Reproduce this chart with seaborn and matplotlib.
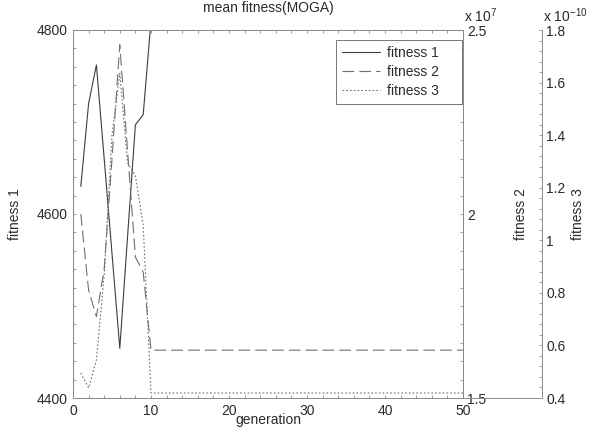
import numpy as np
import pandas as pd
import matplotlib
matplotlib.use("Agg")
import matplotlib.pyplot as plt
from matplotlib.ticker import FixedLocator, FuncFormatter
import seaborn as sns

# ---------------- data ----------------
generation = list(range(1, 51))
fitness1 = [4630, 4720, 4762, 4660, 4557, 4454, 4576, 4697, 4708, 4810,
            4810, 4810, 4810, 4810, 4810, 4810, 4810, 4810, 4810, 4810,
            4810, 4810, 4810, 4810, 4810, 4810, 4810, 4810, 4810, 4810,
            4810, 4810, 4810, 4810, 4810, 4810, 4810, 4810, 4810, 4810,
            4810, 4810, 4810, 4810, 4810, 4810, 4810, 4810, 4810, 4810]
fitness2 = [2.000e7, 1.793e7, 1.721e7, 1.850e7, 2.150e7, 2.460e7, 2.170e7, 1.883e7, 1.842e7, 1.630e7,
            1.630e7, 1.630e7, 1.630e7, 1.630e7, 1.630e7, 1.630e7, 1.630e7, 1.630e7, 1.630e7, 1.630e7,
            1.630e7, 1.630e7, 1.630e7, 1.630e7, 1.630e7, 1.630e7, 1.630e7, 1.630e7, 1.630e7, 1.630e7,
            1.630e7, 1.630e7, 1.630e7, 1.630e7, 1.630e7, 1.630e7, 1.630e7, 1.630e7, 1.630e7, 1.630e7,
            1.630e7, 1.630e7, 1.630e7, 1.630e7, 1.630e7, 1.630e7, 1.630e7, 1.630e7, 1.630e7, 1.630e7]
fitness3 = [0.495e-10, 0.438e-10, 0.545e-10, 0.868e-10, 1.400e-10, 1.636e-10, 1.294e-10, 1.245e-10, 1.058e-10, 0.419e-10,
            0.419e-10, 0.419e-10, 0.419e-10, 0.419e-10, 0.419e-10, 0.419e-10, 0.419e-10, 0.419e-10, 0.419e-10, 0.419e-10,
            0.419e-10, 0.419e-10, 0.419e-10, 0.419e-10, 0.419e-10, 0.419e-10, 0.419e-10, 0.419e-10, 0.419e-10, 0.419e-10,
            0.419e-10, 0.419e-10, 0.419e-10, 0.419e-10, 0.419e-10, 0.419e-10, 0.419e-10, 0.419e-10, 0.419e-10, 0.419e-10,
            0.419e-10, 0.419e-10, 0.419e-10, 0.419e-10, 0.419e-10, 0.419e-10, 0.419e-10, 0.419e-10, 0.419e-10, 0.419e-10]
series_labels = ["fitness 1", "fitness 2", "fitness 3"]
title = "mean fitness(MOGA)"
xlabel = "generation"

df = pd.DataFrame({"generation": generation, "fitness 1": fitness1,
                   "fitness 2": fitness2, "fitness 3": fitness3})

# ---------------- style ----------------
sns.set_style("white")
plt.rcParams["font.family"] = ["Liberation Sans", "DejaVu Sans"]
plt.rcParams["mathtext.fontset"] = "custom"
plt.rcParams["mathtext.rm"] = "Liberation Sans"
plt.rcParams["mathtext.it"] = "Liberation Sans"
plt.rcParams["mathtext.bf"] = "Liberation Sans"
plt.rcParams["lines.scale_dashes"] = False

TXT = "#2a2a2a"
SPINE = "#8a8a8a"
FS = 10
W, H = 594, 440

fig = plt.figure(figsize=(W / 100, H / 100), dpi=100)
L, R, T, B = 73, 463, 30, 398
R3 = 542
ax = fig.add_axes([L / W, (H - B) / H, (R - L) / W, (B - T) / H])
ax2 = ax.twinx()
ax3 = fig.add_axes([L / W, (H - B) / H, (R3 - L) / W, (B - T) / H])
ax3.patch.set_visible(False)

# ---------------- lines ----------------
sns.lineplot(data=df, x="generation", y="fitness 1", ax=ax, color="#3c3c3c",
             lw=0.8, legend=False)
sns.lineplot(data=df, x="generation", y="fitness 2", ax=ax2, color="#707070",
             lw=0.8, legend=False)
sns.lineplot(data=df, x="generation", y="fitness 3", ax=ax3, color="#707070",
             lw=0.8, legend=False)
l1 = ax.get_lines()[0]
l2 = ax2.get_lines()[0]
l3 = ax3.get_lines()[0]
l2.set_dashes((8.5, 3.6))
l3.set_dashes((1.2, 1.5))

# ---------------- axes limits & ticks ----------------
xmax = 50
ax.set_xlim(0, xmax)
ax.set_ylim(4400, 4800)
ax2.set_ylim(1.5e7, 2.5e7)
ax3.set_xlim(0, xmax * (R3 - L) / (R - L))
ax3.set_ylim(0.4e-10, 1.8e-10)

tick_kw = dict(direction="in", length=2.4, width=0.6, colors=SPINE,
               labelcolor=TXT, labelsize=FS)

ax.xaxis.set_major_locator(FixedLocator(np.arange(0, 51, 2)))
ax.xaxis.set_major_formatter(FuncFormatter(lambda v, p: f"{v:g}" if round(v) % 10 == 0 else ""))
ax.yaxis.set_major_locator(FixedLocator(np.arange(4400, 4801, 20)))
ax.yaxis.set_major_formatter(FuncFormatter(lambda v, p: f"{v:g}" if round(v) % 200 == 0 else ""))
ax.tick_params(axis="both", which="major", top=True, bottom=True, left=True, right=False,
               pad=4, **tick_kw)

ax2.yaxis.set_major_locator(FixedLocator(np.arange(150, 251, 5) * 1e5))
ax2.yaxis.set_major_formatter(FuncFormatter(
    lambda v, p: f"{v / 1e7:g}" if round(v / 1e5) % 50 == 0 else ""))
ax2.tick_params(axis="y", which="major", right=True, left=False, pad=3, **tick_kw)

ax3.yaxis.tick_right()
ax3.yaxis.set_major_locator(FixedLocator(np.arange(40, 181, 4) * 1e-12))
ax3.yaxis.set_major_formatter(FuncFormatter(
    lambda v, p: f"{round(v * 1e10, 2):g}" if round(v * 1e12) % 20 == 0 else ""))
ax3.tick_params(axis="y", which="major", right=True, left=False, pad=3, **tick_kw)
ax3.tick_params(axis="x", which="both", bottom=False, top=False, labelbottom=False)
ax3.set_xlabel("")

for a in (ax, ax2):
    for s in a.spines.values():
        s.set_color(SPINE)
        s.set_linewidth(0.7)
for name, s in ax3.spines.items():
    s.set_color(SPINE)
    s.set_linewidth(0.7)
    s.set_visible(name in ("right", "bottom"))

# ---------------- labels ----------------
ax.set_xlabel(xlabel, fontsize=FS, color=TXT)
ax.xaxis.set_label_coords(0.5, (B - 420) / (B - T))
ax.xaxis.label.set_va("center")
ax.set_ylabel(series_labels[0], fontsize=FS, color=TXT)
ax.yaxis.set_label_coords((15 - L) / (R - L), 0.5)
ax.yaxis.label.set_va("center")
ax2.set_ylabel(series_labels[1], fontsize=FS, color=TXT)
ax2.yaxis.set_label_coords((521 - L) / (R - L), 0.5)
ax2.yaxis.label.set_va("center")
ax3.set_ylabel(series_labels[2], fontsize=FS, color=TXT)
ax3.yaxis.set_label_position("right")
ax3.yaxis.set_label_coords((578 - L) / (R3 - L), 0.5)
ax3.yaxis.label.set_va("center")

ax.set_title(title, fontsize=FS, color=TXT, y=(B - 8) / (B - T), va="center", pad=0)

fig.text(464 / W, (H - 22) / H, r"x 10$^{7}$", fontsize=FS, color=TXT,
         ha="left", va="baseline")
fig.text(543 / W, (H - 22) / H, r"x 10$^{-10}$", fontsize=FS, color=TXT,
         ha="left", va="baseline")

leg_x0, leg_x1, leg_top = 336, 462, 40
leg = ax3.legend([l1, l2, l3], series_labels, loc="upper left", mode="expand",
                 bbox_to_anchor=(leg_x0 / W, (H - leg_top) / H - 0.3, (leg_x1 - leg_x0) / W, 0.3),
                 bbox_transform=fig.transFigure,
                 borderaxespad=0, fontsize=FS, frameon=True, fancybox=False,
                 handlelength=2.75, handletextpad=0.45, borderpad=0.45,
                 labelspacing=0.36)
leg.get_frame().set_edgecolor("#555555")
leg.get_frame().set_linewidth(0.7)
for t in leg.get_texts():
    t.set_color(TXT)

fig.savefig("out.png", dpi=100)
